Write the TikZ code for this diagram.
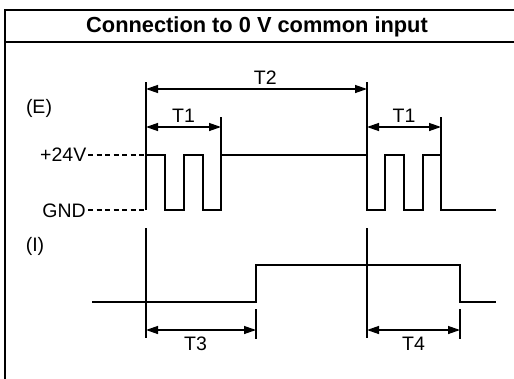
\documentclass[tikz,border=0pt]{standalone}
\usepackage{fontspec}
\setmainfont{Liberation Sans}
\usetikzlibrary{arrows.meta}

\begin{document}
\begin{tikzpicture}[x=1pt, y=-1pt, every node/.style={font=\fontsize{19.5}{22}\selectfont, inner sep=0pt},
    sig/.style={line width=1.3pt},
    dim/.style={line width=1.3pt, {Triangle[length=12pt,width=8pt]}-{Triangle[length=12pt,width=8pt]}},
    lvl/.style={line width=1.1pt, dash pattern=on 5pt off 3.5pt}]
        \useasboundingbox (0,0) rectangle (514,378);
        \clip (0,0) rectangle (514,378);

        % Frame and title
        \draw[line width=2pt] (5,10) rectangle (530,400);
        \draw[line width=2pt] (5,42) -- (530,42);
        \node[font=\fontsize{21.8}{24}\selectfont\bfseries, anchor=base] (title) at (257,32.5) {Connection to 0 V common input};

        % Row labels and levels
        \node (E) at (39,108) {(E)};
        \node (I) at (35,246) {(I)};
        \node[anchor=east] (hi) at (86.5,155) {+24V};
        \node[anchor=east] (lo) at (86,210.5) {GND};
        \coordinate (h0) at (146,155);
        \coordinate (g0) at (146,210);
        \draw[lvl] (88,155) -- (h0);
        \draw[lvl] (88,210) -- (g0);

        % Signal (E)
        \draw[sig] (g0) -- (h0) -- (165,155) -- (165,210) -- (184,210) -- (184,155) -- (203,155) -- (203,210)
            -- (221,210) -- (221,155) -- (367,155) -- (367,210) -- (385,210) -- (385,155) -- (404,155)
            -- (404,210) -- (423,210) -- (423,155) -- (441,155) -- (441,210) -- (496,210);

        % Signal (I)
        \draw[sig] (92,302) -- (256,302) -- (256,265) -- (460,265) -- (460,302) -- (496,302);

        % Extension lines
        \coordinate (a0) at (146,82);
        \coordinate (b0) at (367,82);
        \coordinate (a1) at (221,117);
        \coordinate (b1) at (441,117);
        \draw[sig] (a0) -- (h0);
        \draw[sig] (b0) -- (367,155);
        \draw[sig] (a1) -- (221,155);
        \draw[sig] (b1) -- (441,155);
        \coordinate (a2) at (146,228);
        \coordinate (b2) at (367,228);
        \coordinate (a3) at (256,309);
        \coordinate (b3) at (460,309);
        \draw[sig] (a2) -- (146,338);
        \draw[sig] (b2) -- (367,338);
        \draw[sig] (a3) -- (256,339);
        \draw[sig] (b3) -- (460,339);

        % Timings
        \draw[dim] (146,89) -- (367,89) node[pos=0.54, above=4pt] (T2) {T2};
        \draw[dim] (146,127) -- (221,127) node[midway, above=4pt] (T1a) {T1};
        \draw[dim] (367,127) -- (441,127) node[midway, above=4pt] (T1b) {T1};
        \draw[dim] (146,330) -- (256,330) node[pos=0.45, below=6pt] (T3) {T3};
        \draw[dim] (367,330) -- (460,330) node[midway, below=6pt] (T4) {T4};
    \end{tikzpicture}
\end{document}
